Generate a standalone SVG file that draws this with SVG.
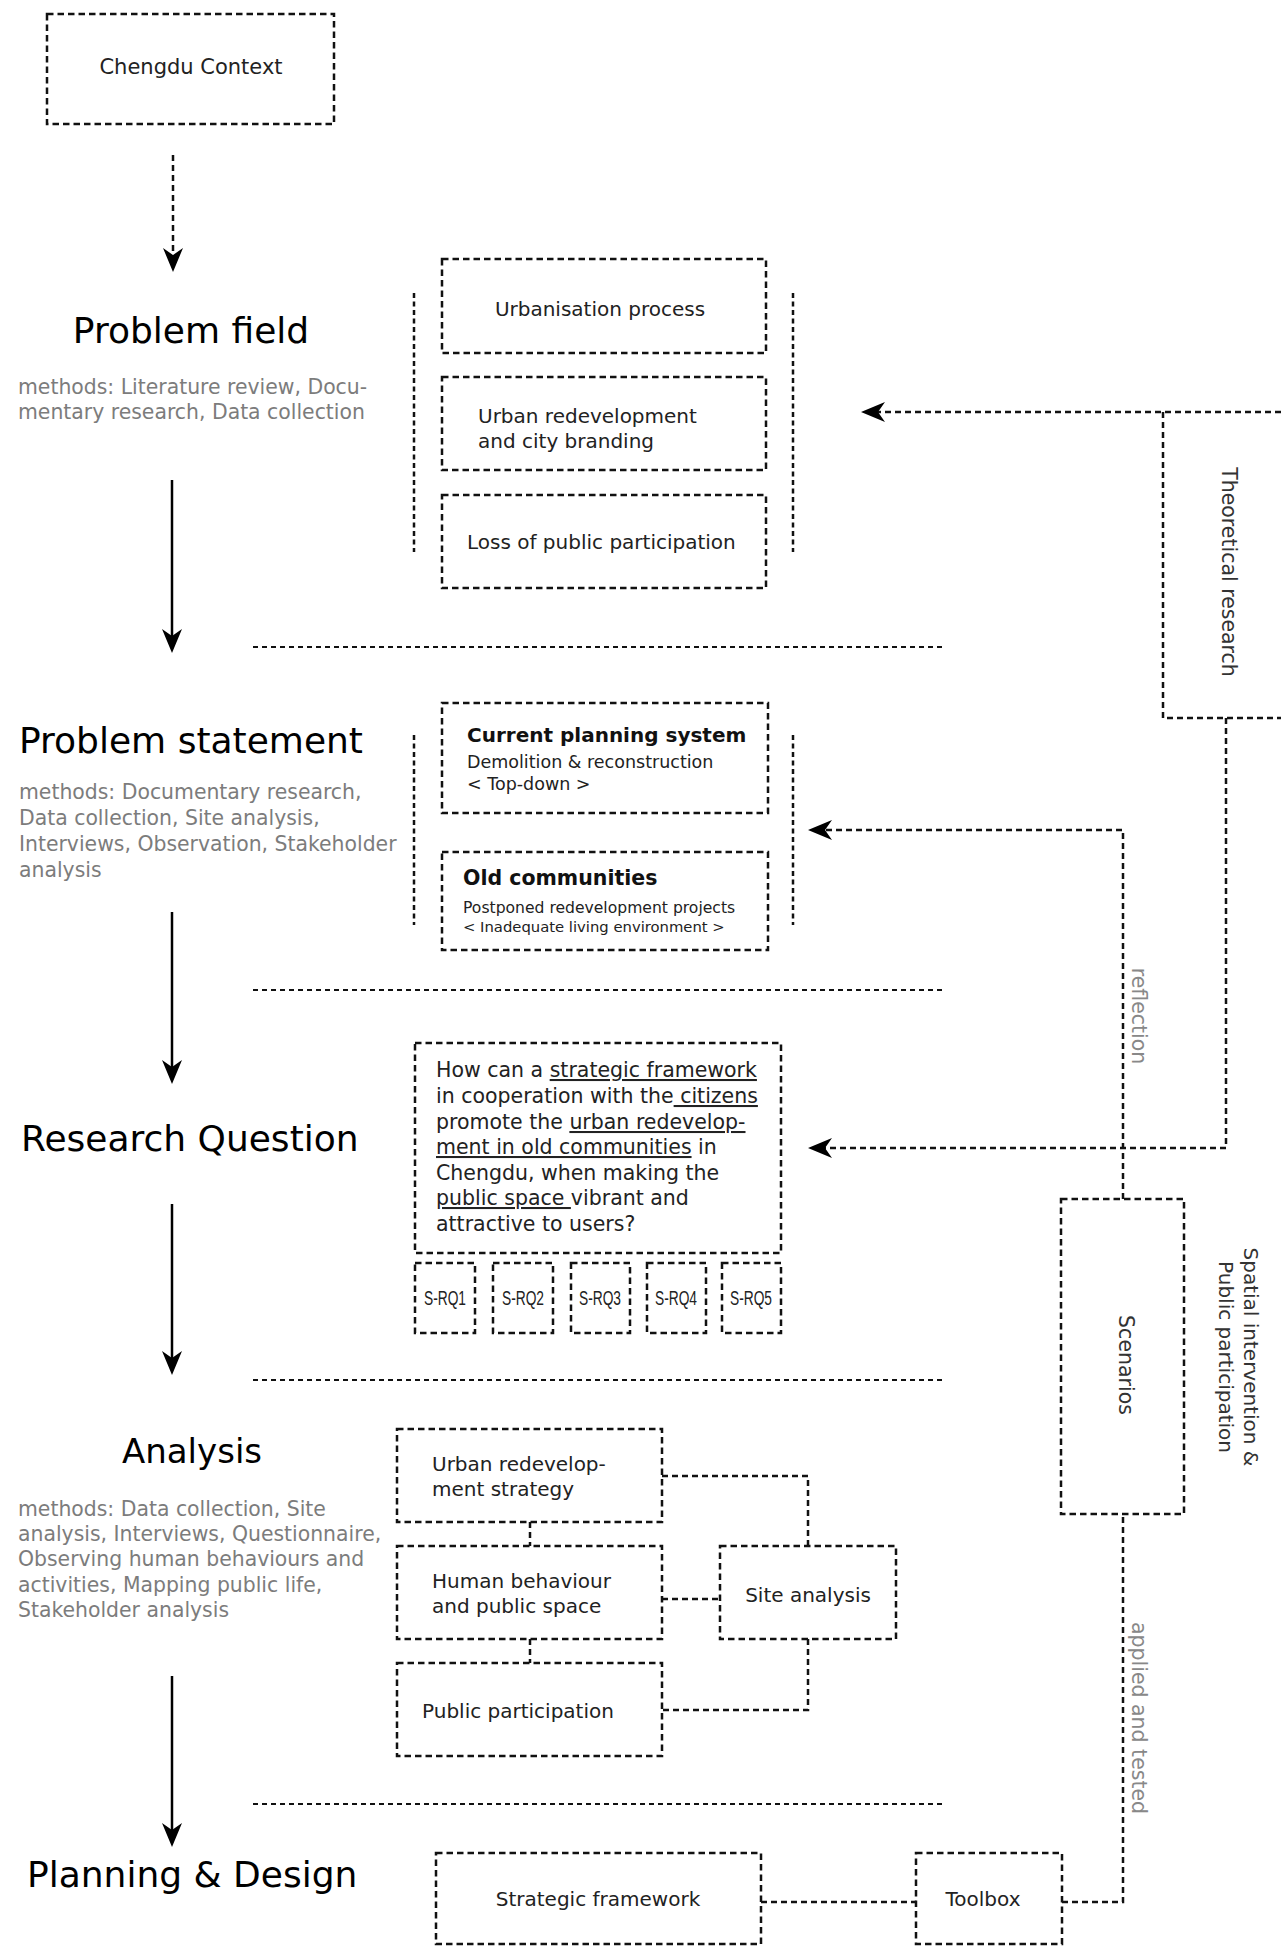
<svg xmlns="http://www.w3.org/2000/svg" width="1281" height="1946" viewBox="0 0 1281 1946">
<style>
text{font-family:"DejaVu Sans","Liberation Sans",sans-serif;}
.box{fill:none;stroke:#111;stroke-width:2.5;stroke-dasharray:6.5 4;}
.con{fill:none;stroke:#111;stroke-width:2.5;stroke-dasharray:6 4;}
.sep{fill:none;stroke:#111;stroke-width:2;stroke-dasharray:5 4;}
.brk{fill:none;stroke:#111;stroke-width:2.5;stroke-dasharray:5 3.5;}
.solid{fill:none;stroke:#000;stroke-width:2.5;}
.title{font-size:36px;fill:#000;}
.meth{font-size:20.4px;fill:#7c7c7c;}
.bt{font-size:20px;fill:#222;}
.rq{font-size:20.5px;fill:#222;}
.srq{font-family:"Liberation Sans",sans-serif;font-size:20px;fill:#222;}
.rot{font-size:20.5px;fill:#333;}
.rotg{font-size:20.5px;fill:#888;}
.u{text-decoration:underline;}
</style>
<defs>
<marker id="ah" viewBox="0 -11 25 22" refX="10" refY="0" markerWidth="25" markerHeight="22" markerUnits="userSpaceOnUse" orient="auto">
<path d="M24,0 L0,-10 L7,0 L0,10 Z" fill="#000"/>
</marker>
</defs>

<g id="connectors">
<line class="con" x1="173" y1="155" x2="173" y2="258" marker-end="url(#ah)"/>
<line class="solid" x1="172" y1="480" x2="172" y2="639" marker-end="url(#ah)"/>
<line class="solid" x1="172" y1="912" x2="172" y2="1070" marker-end="url(#ah)"/>
<line class="solid" x1="172" y1="1204" x2="172" y2="1361" marker-end="url(#ah)"/>
<line class="solid" x1="172" y1="1676" x2="172" y2="1833" marker-end="url(#ah)"/>
<path class="con" d="M1281,412 H875" marker-end="url(#ah)"/>
<path class="con" d="M1226,718 V1148 H822" marker-end="url(#ah)"/>
<path class="con" d="M1123,1199 V830 H822" marker-end="url(#ah)"/>
<path class="con" d="M1062,1902 H1123 V1514"/>
<path class="con" d="M761,1902 H916"/>
<path class="con" d="M530,1522 V1546"/>
<path class="con" d="M530,1639 V1663"/>
<path class="con" d="M662,1476 H808 V1546"/>
<path class="con" d="M662,1599 H720"/>
<path class="con" d="M808,1639 V1710 H662"/>
</g>

<g id="separators">
<line class="sep" x1="253" y1="647" x2="943" y2="647"/>
<line class="sep" x1="253" y1="990" x2="943" y2="990"/>
<line class="sep" x1="253" y1="1380" x2="943" y2="1380"/>
<line class="sep" x1="253" y1="1804" x2="943" y2="1804"/>
</g>

<g id="chengdu-context">
<rect class="box" x="47" y="14" width="287" height="110"/>
<text class="bt" x="191" y="74" text-anchor="middle" style="font-size:21px">Chengdu Context</text>
</g>

<g id="problem-field">
<text class="title" x="191" y="343" text-anchor="middle">Problem field</text>
<text class="meth" x="18" y="394">methods: Literature review, Docu-</text>
<text class="meth" x="18" y="419">mentary research, Data collection</text>
</g>

<g id="problem-field-group">
<line class="brk" x1="414" y1="293" x2="414" y2="552"/>
<line class="brk" x1="793" y1="293" x2="793" y2="552"/>
</g>
<g id="urbanisation-process">
<rect class="box" x="442" y="259" width="324" height="94"/>
<text class="bt" x="600" y="316" text-anchor="middle">Urbanisation process</text>
</g>
<g id="urban-redevelopment">
<rect class="box" x="442" y="377" width="324" height="93"/>
<text class="bt" x="478" y="423">Urban redevelopment</text>
<text class="bt" x="478" y="448">and city branding</text>
</g>
<g id="loss-of-participation">
<rect class="box" x="442" y="495" width="324" height="93"/>
<text class="bt" x="467" y="549">Loss of public participation</text>
</g>

<g id="theoretical-research">
<path class="con" d="M1163,412 V718 H1281"/>
<text class="rot" transform="translate(1222,572) rotate(90)" text-anchor="middle">Theoretical research</text>
</g>

<g id="problem-statement">
<text class="title" x="19" y="753">Problem statement</text>
<text class="meth" x="19" y="799">methods: Documentary research,</text>
<text class="meth" x="19" y="825">Data collection, Site analysis,</text>
<text class="meth" x="19" y="851">Interviews, Observation, Stakeholder</text>
<text class="meth" x="19" y="877">analysis</text>
</g>

<g id="problem-statement-group">
<line class="brk" x1="414" y1="735" x2="414" y2="925"/>
<line class="brk" x1="793" y1="735" x2="793" y2="925"/>
</g>
<g id="current-planning-system">
<rect class="box" x="442" y="703" width="326" height="110"/>
<text x="467" y="742" style="font-size:20px;font-weight:bold" fill="#111">Current planning system</text>
<text class="bt" x="467" y="768" style="font-size:17.5px">Demolition &amp; reconstruction</text>
<text class="bt" x="467" y="790" style="font-size:17.5px">&lt; Top-down &gt;</text>
</g>
<g id="old-communities">
<rect class="box" x="442" y="852" width="326" height="98"/>
<text x="463" y="885" style="font-size:20.5px;font-weight:bold" fill="#111">Old communities</text>
<text class="bt" x="463" y="913" style="font-size:15.6px">Postponed redevelopment projects</text>
<text class="bt" x="463" y="932" style="font-size:14.8px">&lt; Inadequate living environment &gt;</text>
</g>

<g id="reflection-label">
<text class="rotg" transform="translate(1132,1016) rotate(90)" text-anchor="middle">reflection</text>
</g>

<g id="research-question">
<text class="title" x="21" y="1151">Research Question</text>
</g>

<g id="rq-box">
<rect class="box" x="415" y="1043" width="366" height="210"/>
<text class="rq" x="436" y="1077">How can a <tspan class="u">strategic framework</tspan></text>
<text class="rq" x="436" y="1103">in cooperation with the<tspan class="u"> citizens</tspan></text>
<text class="rq" x="436" y="1129">promote the <tspan class="u">urban redevelop-</tspan></text>
<text class="rq" x="436" y="1154"><tspan class="u">ment in old communities</tspan> in</text>
<text class="rq" x="436" y="1180">Chengdu, when making the</text>
<text class="rq" x="436" y="1205"><tspan class="u">public space </tspan>vibrant and</text>
<text class="rq" x="436" y="1231">attractive to users?</text>
</g>
<g id="s-rq1"><rect class="box" x="415" y="1263" width="60" height="70"/><text class="srq" x="445" y="1305" text-anchor="middle" textLength="42" lengthAdjust="spacingAndGlyphs">S-RQ1</text></g>
<g id="s-rq2"><rect class="box" x="493" y="1263" width="60" height="70"/><text class="srq" x="523" y="1305" text-anchor="middle" textLength="42" lengthAdjust="spacingAndGlyphs">S-RQ2</text></g>
<g id="s-rq3"><rect class="box" x="571" y="1263" width="59" height="70"/><text class="srq" x="600" y="1305" text-anchor="middle" textLength="42" lengthAdjust="spacingAndGlyphs">S-RQ3</text></g>
<g id="s-rq4"><rect class="box" x="647" y="1263" width="59" height="70"/><text class="srq" x="676" y="1305" text-anchor="middle" textLength="42" lengthAdjust="spacingAndGlyphs">S-RQ4</text></g>
<g id="s-rq5"><rect class="box" x="722" y="1263" width="59" height="70"/><text class="srq" x="751" y="1305" text-anchor="middle" textLength="42" lengthAdjust="spacingAndGlyphs">S-RQ5</text></g>

<g id="scenarios">
<rect class="box" x="1061" y="1199" width="123" height="315"/>
<text class="rot" transform="translate(1119,1365) rotate(90)" text-anchor="middle">Scenarios</text>
</g>
<g id="spatial-intervention-label">
<text class="rot" style="font-size:20px" transform="translate(1244,1357) rotate(90)" text-anchor="middle">Spatial intervention &amp;</text>
<text class="rot" style="font-size:20px" transform="translate(1219,1357) rotate(90)" text-anchor="middle">Public participation</text>
</g>

<g id="analysis">
<text class="title" x="192" y="1463" text-anchor="middle" style="font-size:34px">Analysis</text>
<text class="meth" x="18" y="1516">methods: Data collection, Site</text>
<text class="meth" x="18" y="1541">analysis, Interviews, Questionnaire,</text>
<text class="meth" x="18" y="1566">Observing human behaviours and</text>
<text class="meth" x="18" y="1592">activities, Mapping public life,</text>
<text class="meth" x="18" y="1617">Stakeholder analysis</text>
</g>

<g id="urban-redevelopment-strategy">
<rect class="box" x="397" y="1429" width="265" height="93"/>
<text class="bt" x="432" y="1471">Urban redevelop-</text>
<text class="bt" x="432" y="1496">ment strategy</text>
</g>
<g id="human-behaviour">
<rect class="box" x="397" y="1546" width="265" height="93"/>
<text class="bt" x="432" y="1588">Human behaviour</text>
<text class="bt" x="432" y="1613">and public space</text>
</g>
<g id="public-participation">
<rect class="box" x="397" y="1663" width="265" height="93"/>
<text class="bt" x="422" y="1718">Public participation</text>
</g>
<g id="site-analysis">
<rect class="box" x="720" y="1546" width="176" height="93"/>
<text class="bt" x="808" y="1602" text-anchor="middle">Site analysis</text>
</g>

<g id="applied-label">
<text class="rotg" transform="translate(1132,1718) rotate(90)" text-anchor="middle">applied and tested</text>
</g>

<g id="planning-design">
<text class="title" x="27" y="1887">Planning &amp; Design</text>
</g>
<g id="strategic-framework">
<rect class="box" x="436" y="1853" width="325" height="91"/>
<text class="bt" x="598" y="1906" text-anchor="middle">Strategic framework</text>
</g>
<g id="toolbox">
<rect class="box" x="916" y="1853" width="146" height="91"/>
<text class="bt" x="983" y="1906" text-anchor="middle">Toolbox</text>
</g>
</svg>
